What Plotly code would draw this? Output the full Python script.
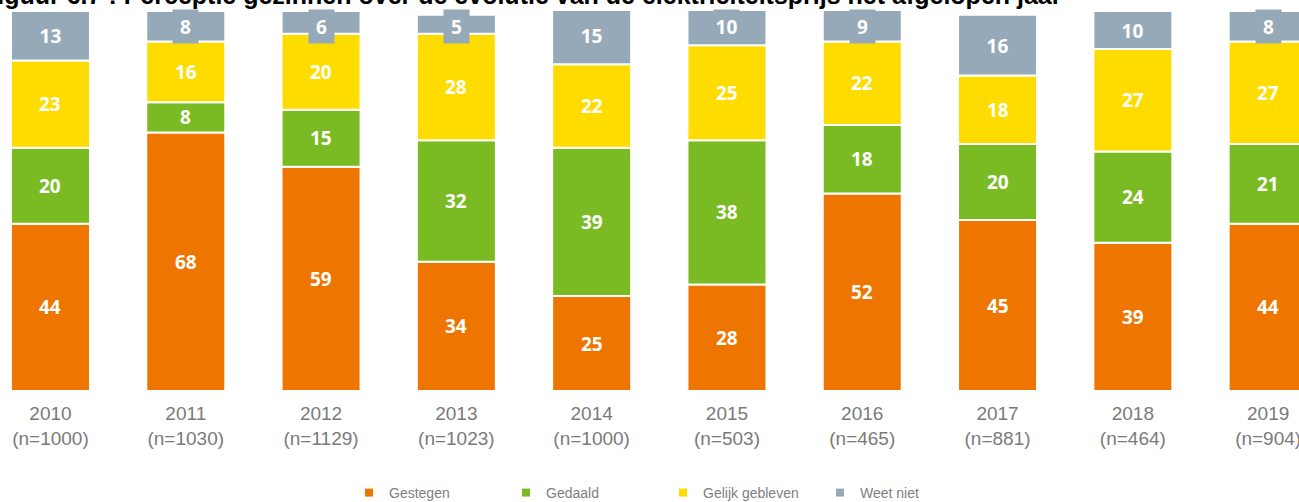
import plotly.graph_objects as go

# Survey years and sample sizes
years = ["2010", "2011", "2012", "2013", "2014", "2015", "2016", "2017", "2018", "2019"]
sample_sizes = ["1000", "1030", "1129", "1023", "1000", "503", "465", "881", "464", "904"]

# Share of households (%) per answer, stacked bottom to top
gestegen = [44, 68, 59, 34, 25, 28, 52, 45, 39, 44]
gedaald = [20, 8, 15, 32, 39, 38, 18, 20, 24, 21]
gelijk_gebleven = [23, 16, 20, 28, 22, 25, 22, 18, 27, 27]
weet_niet = [13, 8, 6, 5, 15, 10, 9, 16, 10, 8]

series = [
    ("Gestegen", gestegen, "#EE7600"),
    ("Gedaald", gedaald, "#7ABB23"),
    ("Gelijk gebleven", gelijk_gebleven, "#FFDC00"),
    ("Weet niet", weet_niet, "#96A9B9"),
]

W, H = 1299, 502
M_TOP, M_BOT = 11, 111
plot_h = H - M_TOP - M_BOT
px_per_unit = plot_h / 100.0

x = list(range(len(years)))
ticktext = [f"{y}<br>(n={n})" for y, n in zip(years, sample_sizes)]

fig = go.Figure()
annotations = []
base = [0] * len(years)

label_font = dict(family="Open Sans, DejaVu Sans, sans-serif", size=19, color="white", weight="bold")
box_w, box_h = 25, 33
max_center = 100 - (box_h / 2 + 10 - M_TOP) / px_per_unit

for name, vals, color in series:
    fig.add_trace(go.Bar(
        x=x, y=vals, base=base, name=name,
        marker=dict(color=color, line=dict(color="white", width=2)),
        width=0.584, showlegend=False, hoverinfo="skip",
    ))
    for i, v in enumerate(vals):
        center = base[i] + v / 2
        ann = dict(x=i, y=center, xref="x", yref="y", text=str(v),
                   showarrow=False, font=label_font)
        if name == "Weet niet":
            ann.update(y=min(center, max_center), bgcolor=color,
                       width=box_w, height=box_h, borderpad=0)
        annotations.append(ann)
    base = [b + v for b, v in zip(base, vals)]

# Legend entries with small square markers
for name, vals, color in series:
    fig.add_trace(go.Scatter(
        x=[None], y=[None], mode="markers", name=name,
        marker=dict(symbol="square", size=8, color=color),
    ))

annotations.append(dict(
    x=1064 / W, y=1 + (M_TOP + 5) / plot_h, xref="paper", yref="paper",
    xanchor="right", yanchor="middle", showarrow=False,
    text="<b>Figuur 6.7 : Perceptie gezinnen over de evolutie van de elektriciteitsprijs het afgelopen jaar</b>",
    font=dict(family="Liberation Sans, Arial, sans-serif", size=25, color="black"),
))

fig.update_layout(
    width=W, height=H,
    margin=dict(l=0, r=0, t=M_TOP, b=M_BOT, autoexpand=False),
    paper_bgcolor="white", plot_bgcolor="white",
    barmode="overlay",
    annotations=annotations,
    xaxis=dict(
        range=[-0.373, 9.228], tickvals=x, ticktext=ticktext,
        showgrid=False, zeroline=False, showline=False, ticks="",
        ticklabelstandoff=9, ticklabeloverflow="allow", automargin=False,
        tickfont=dict(family="Liberation Sans, sans-serif", size=19, color="#7a7a7a"),
        fixedrange=True,
    ),
    yaxis=dict(range=[0, 100], visible=False, fixedrange=True),
    legend=dict(
        orientation="h", x=349 / W, xanchor="left",
        y=-(493 - (H - M_BOT)) / plot_h, yanchor="middle",
        entrywidth=112, entrywidthmode="pixels",
        font=dict(family="Liberation Sans, sans-serif", size=14, color="#808080"),
        bgcolor="rgba(0,0,0,0)",
    ),
    showlegend=True,
)

fig.write_html("out.html")
